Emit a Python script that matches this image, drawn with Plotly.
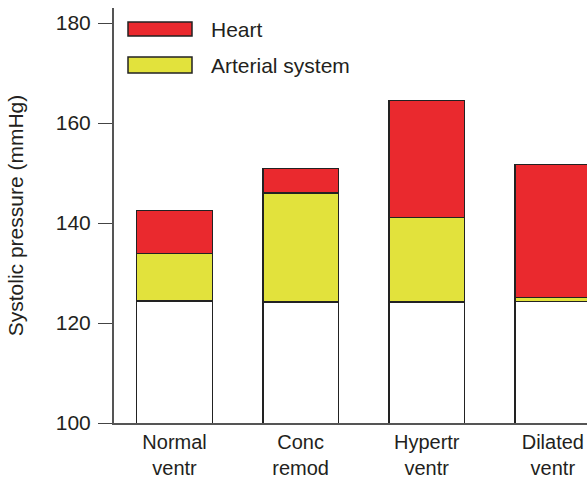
import plotly.graph_objects as go

categories = ["Normal<br>ventr", "Conc<br>remod", "Hypertr<br>ventr", "Dilated<br>ventr"]
baseline = [124.4, 124.2, 124.2, 124.3]
arterial = [9.5, 21.8, 16.9, 0.8]
heart = [8.6, 4.9, 23.4, 26.6]
y_ticks = [100, 120, 140, 160, 180]

RED = "rgb(234,41,46)"
YELLOW = "rgb(226,226,60)"
EDGE = "#222222"
TXT = "#231f20"
FONT = "Liberation Sans, Arial, sans-serif"
FS = 21

fig = go.Figure()
fig.add_bar(x=categories, y=baseline, marker=dict(color="white", line=dict(color=EDGE, width=1.5)),
            width=0.6, showlegend=False)
fig.add_bar(x=categories, y=arterial, marker=dict(color=YELLOW, line=dict(color=EDGE, width=1.5)),
            width=0.6, name="Arterial system", showlegend=False)
fig.add_bar(x=categories, y=heart, marker=dict(color=RED, line=dict(color=EDGE, width=1.5)),
            width=0.6, name="Heart", showlegend=False)

# manual legend (pixel -> paper coordinates; plot area spans x 114..587, y 8..423)
pw, ph = 473.0, 415.0
def px(x):
    return (x - 114) / pw
def py(y):
    return (423 - y) / ph

for (y0, y1, col, label) in [(22, 36, RED, "Heart"), (57, 73, YELLOW, "Arterial system")]:
    fig.add_shape(type="rect", xref="paper", yref="paper", x0=px(128), x1=px(192), y0=py(y1), y1=py(y0),
                  fillcolor=col, line=dict(color=EDGE, width=1.5))
    fig.add_annotation(xref="paper", yref="paper", x=px(209), y=py((y0 + y1) / 2), text=label,
                       showarrow=False, xanchor="left", yanchor="middle",
                       font=dict(size=FS, color=TXT, family=FONT))

fig.update_layout(
    barmode="stack",
    width=587, height=480,
    margin=dict(l=114, r=0, t=8, b=57),
    plot_bgcolor="white", paper_bgcolor="white",
    font=dict(family=FONT, size=FS, color=TXT),
    showlegend=False,
)
fig.update_xaxes(type="category", range=[-0.48, 3.271], showline=True, linecolor="#555555", linewidth=2,
                 ticks="", showgrid=False, tickfont=dict(size=20, color=TXT), ticklabelstandoff=0,
                 automargin=False)
fig.update_yaxes(range=[100, 183], tickvals=y_ticks, ticks="outside", ticklen=14, tickwidth=1.2,
                 tickcolor="#444444", showline=True, linecolor="#555555", linewidth=2, showgrid=False,
                 zeroline=False, tickfont=dict(size=FS, color=TXT), ticklabelstandoff=3, automargin=False,
                 title=dict(text="Systolic pressure (mmHg)", font=dict(size=FS, color=TXT), standoff=26))

fig.write_html("out.html", config={"displayModeBar": False},
               post_script="document.body.style.margin='0';document.body.style.overflow='hidden';")
